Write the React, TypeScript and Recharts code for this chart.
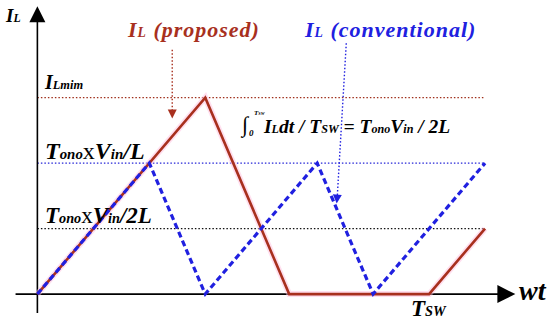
import React from "react";
import { LineChart, Line, XAxis, YAxis, ReferenceLine, ReferenceDot } from "recharts";

// time in units of the conventional off-time, current in units of Ton*Vin/2L
const convTime = [0, 2, 3, 5, 6, 8];
const convCurrent = [0, 2, 0, 2, 0, 2];
const propTime = [0, 3, 4.5, 7, 8];
const propCurrent = [0, 3, 0, 0, 1];

const levelValues = [3, 2, 1];
const levelColors = ["#a0301c", "#2424d8", "#111111"];
const levelEnd = 8;

const RED = "#a8301e";
const BLUE = "#2020e0";
const FONT = '"Liberation Serif"';

const convData = convTime.map((t, i) => ({ t, i: convCurrent[i] }));
const propData = propTime.map((t, i) => ({ t, i: propCurrent[i] }));

const Arrow = ({ cx, cy, angle, color, size }: any) => {
  if (cx == null || cy == null) return null;
  const s = size;
  return (
    <polygon
      points={`${s},0 0,${-s * 0.5} 0,${s * 0.5}`}
      fill={color}
      transform={`translate(${cx},${cy}) rotate(${angle})`}
    />
  );
};

const Sub = ({ children, size = 0.62 }: any) => (
  <span style={{ fontSize: `${size}em` }}>{children}</span>
);

const label = (left: number, top: number, size: number, color = "#000"): React.CSSProperties => ({
  position: "absolute",
  left,
  top,
  fontSize: size,
  color,
  fontFamily: FONT,
  fontWeight: "bold",
  fontStyle: "italic",
  lineHeight: 1,
  whiteSpace: "nowrap",
});

const plainX: React.CSSProperties = { fontStyle: "normal", fontWeight: "normal" };

export default function App() {
  return (
    <div style={{ position: "fixed", left: 0, top: 0, width: 550, height: 323, background: "#fff" }}>
      <LineChart width={550} height={323} margin={{ top: 6, right: 9, bottom: 6, left: 15 }}>
        <XAxis type="number" dataKey="t" domain={[-0.4, 9]} hide allowDuplicatedCategory={false} />
        <YAxis type="number" dataKey="i" domain={[-0.35, 4.4]} hide />

        {levelValues.map((v, k) => (
          <ReferenceLine
            key={v}
            segment={[{ x: 0, y: v }, { x: levelEnd, y: v }]}
            stroke={levelColors[k]}
            strokeWidth={1.4}
            strokeDasharray="1.5 2"
            ifOverflow="visible"
          />
        ))}

        {/* axes */}
        <ReferenceLine segment={[{ x: -0.39, y: 0 }, { x: 8.3, y: 0 }]} stroke="#000" strokeWidth={1.6} ifOverflow="visible" />
        <ReferenceLine segment={[{ x: 0, y: -0.29 }, { x: 0, y: 4.2 }]} stroke="#000" strokeWidth={1.6} ifOverflow="visible" />
        <ReferenceDot x={8.22} y={0} ifOverflow="visible" shape={(p: any) => <Arrow {...p} angle={0} color="#000" size={18} />} />
        <ReferenceDot x={0} y={4.15} ifOverflow="visible" shape={(p: any) => <Arrow {...p} angle={-90} color="#000" size={16} />} />

        {/* pointer arrows */}
        <ReferenceLine segment={[{ x: 2.41, y: 3.73 }, { x: 2.41, y: 2.8 }]} stroke={RED} strokeWidth={1.4} strokeDasharray="1.5 2" ifOverflow="visible" />
        <ReferenceDot x={2.41} y={2.82} ifOverflow="visible" shape={(p: any) => <Arrow {...p} angle={90} color={RED} size={9} />} />
        <ReferenceLine segment={[{ x: 5.52, y: 3.83 }, { x: 5.36, y: 1.5 }]} stroke={BLUE} strokeWidth={1.4} strokeDasharray="1.5 2" ifOverflow="visible" />
        <ReferenceDot x={5.36} y={1.52} ifOverflow="visible" shape={(p: any) => <Arrow {...p} angle={94} color={BLUE} size={9} />} />

        <Line
          data={propData}
          dataKey="i"
          stroke="#ffc0e0"
          strokeOpacity={0.5}
          strokeWidth={6}
          dot={false}
          isAnimationActive={false}
        />
        <Line
          data={propData}
          dataKey="i"
          stroke={RED}
          strokeWidth={2.6}
          dot={false}
          isAnimationActive={false}
        />
        <Line
          data={convData}
          dataKey="i"
          stroke={BLUE}
          strokeWidth={3.2}
          strokeDasharray="6 3.5"
          dot={false}
          isAnimationActive={false}
        />
      </LineChart>

      <div style={label(6, 6, 19)}>I<Sub>L</Sub></div>
      <div style={{ ...label(128, 19, 22, RED), letterSpacing: 1 }}>I<Sub>L</Sub> (proposed)</div>
      <div style={{ ...label(305, 19, 22, BLUE), letterSpacing: 1 }}>I<Sub>L</Sub> (conventional)</div>
      <div style={label(45, 72, 20)}>I<Sub>Lmim</Sub></div>
      <div style={label(45, 139, 24)}>
        T<Sub>ono</Sub><span style={plainX}>x</span>V<Sub>in</Sub>/L
      </div>
      <div style={label(45, 204, 23)}>
        T<Sub>ono</Sub><span style={plainX}>x</span>V<Sub>in</Sub>/2L
      </div>
      <div style={{ ...label(242, 114, 22), fontStyle: "normal", fontWeight: "normal" }}>∫</div>
      <div style={label(254, 110, 7)}>T<Sub>SW</Sub></div>
      <div style={label(249, 129, 9)}>0</div>
      <div style={label(264, 117, 19.5)}>
        I<Sub>L</Sub>dt / T<Sub>SW</Sub> = T<Sub>ono</Sub>V<Sub>in</Sub> / 2L
      </div>
      <div style={label(411, 297, 23)}>T<Sub>SW</Sub></div>
      <div style={label(519, 277, 28)}>wt</div>
    </div>
  );
}
